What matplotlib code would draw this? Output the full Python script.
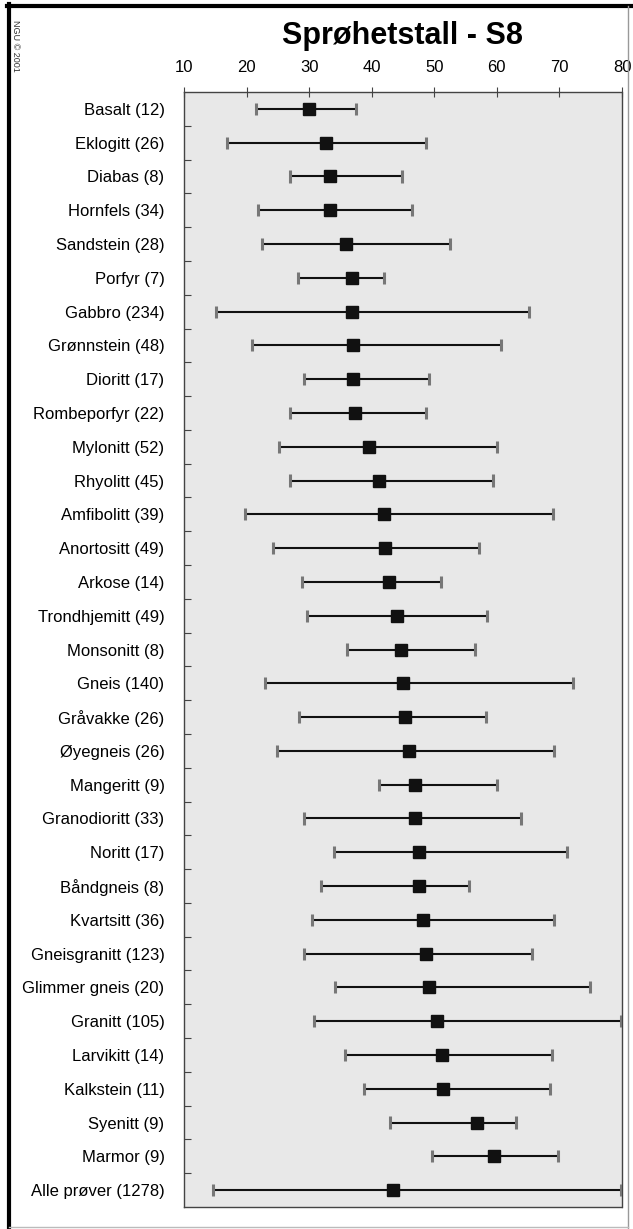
import matplotlib
matplotlib.use('Agg')
import matplotlib.pyplot as plt
from matplotlib.lines import Line2D
import numpy as np

plt.rcParams['font.family'] = ['Liberation Sans', 'DejaVu Sans']

# rock types with sample counts, top to bottom
rocks = ['Basalt (12)', 'Eklogitt (26)', 'Diabas (8)', 'Hornfels (34)', 'Sandstein (28)',
         'Porfyr (7)', 'Gabbro (234)', 'Grønnstein (48)', 'Dioritt (17)', 'Rombeporfyr (22)',
         'Mylonitt (52)', 'Rhyolitt (45)', 'Amfibolitt (39)', 'Anortositt (49)', 'Arkose (14)',
         'Trondhjemitt (49)', 'Monsonitt (8)', 'Gneis (140)', 'Gråvakke (26)', 'Øyegneis (26)',
         'Mangeritt (9)', 'Granodioritt (33)', 'Noritt (17)', 'Båndgneis (8)', 'Kvartsitt (36)',
         'Gneisgranitt (123)', 'Glimmer gneis (20)', 'Granitt (105)', 'Larvikitt (14)',
         'Kalkstein (11)', 'Syenitt (9)', 'Marmor (9)', 'Alle prøver (1278)']

s8_min = [21.5, 16.8, 27.0, 21.8, 22.5, 28.2, 15.1, 20.8, 29.1, 27.0,
          25.2, 27.0, 19.8, 24.3, 28.9, 29.7, 36.0, 22.9, 28.3, 24.8,
          41.1, 29.2, 34.0, 31.9, 30.5, 29.2, 34.1, 30.7, 35.7, 38.8,
          43.0, 49.6, 14.7]
s8_mean = [29.9, 32.7, 33.3, 33.3, 35.9, 36.8, 36.8, 37.0, 37.0, 37.3,
           39.6, 41.1, 41.9, 42.2, 42.7, 44.0, 44.7, 45.0, 45.3, 46.0,
           46.9, 46.9, 47.6, 47.6, 48.2, 48.6, 49.2, 50.5, 51.2, 51.4,
           56.8, 59.6, 43.4]
s8_max = [37.5, 48.7, 44.9, 46.5, 52.5, 41.9, 65.1, 60.7, 49.1, 48.6,
          60.0, 59.4, 68.9, 57.1, 51.1, 58.5, 56.5, 72.1, 58.2, 69.2,
          60.0, 63.8, 71.2, 55.6, 69.2, 65.6, 74.9, 79.8, 68.8, 68.5,
          63.1, 69.8, 79.8]
xticks = [10, 20, 30, 40, 50, 60, 70, 80]

fig = plt.figure(figsize=(6.33, 12.29), dpi=100)
ax = fig.add_axes([184 / 633, 1 - 1207 / 1229, 438 / 633, 1115 / 1229])
ax.set_facecolor('#e8e8e8')

ypos = np.arange(len(rocks))

# whiskers, end caps and mean markers
ax.hlines(ypos, s8_min, s8_max, color='#111111', lw=1.5, zorder=2)
ax.vlines(s8_min, ypos - 0.18, ypos + 0.18, color='#777777', lw=2.2, zorder=3)
ax.vlines(s8_max, ypos - 0.18, ypos + 0.18, color='#777777', lw=2.2, zorder=3)
ax.plot(s8_mean, ypos, 's', color='#111111', ms=8, zorder=4)

ax.set_xlim(10, 80)
ax.set_ylim(len(rocks) - 0.5, -0.5)

ax.xaxis.set_ticks_position('top')
ax.set_xticks(xticks)
ax.tick_params(axis='x', direction='inout', length=7, width=0.8, color='#444444',
               labelsize=12, pad=9)
ax.set_yticks(ypos)
ax.set_yticklabels(rocks)
ax.tick_params(axis='y', length=0, labelsize=12, pad=14)
ax.set_yticks(ypos[:-1] + 0.5, minor=True)
ax.tick_params(axis='y', which='minor', direction='in', length=5, width=0.8, color='#444444')

for sp in ax.spines.values():
    sp.set_color('#444444')
    sp.set_linewidth(1.0)
    sp.set_linestyle((0, (1, 1)))

fig.text(403 / 633, 1 - 36 / 1229, 'Sprøhetstall - S8', ha='center', va='center',
         fontsize=22, fontweight='bold')
fig.text(15 / 633, 1 - 20 / 1229, 'NGU © 2001', rotation=270, ha='center', va='top',
         fontsize=6.5, color='#333333')

# outer frame
fig.add_artist(Line2D([9 / 633, 9 / 633], [0, 1 - 4 / 1229], color='black', lw=3,
                      transform=fig.transFigure))
fig.add_artist(Line2D([7 / 633, 1], [1 - 6 / 1229, 1 - 6 / 1229], color='black', lw=3,
                      transform=fig.transFigure))
fig.add_artist(Line2D([628 / 633, 628 / 633], [1 - 1228 / 1229, 1 - 6 / 1229],
                      color='#999999', lw=1, transform=fig.transFigure))
fig.add_artist(Line2D([9 / 633, 628 / 633], [1 - 1227 / 1229, 1 - 1227 / 1229],
                      color='#bbbbbb', lw=1, transform=fig.transFigure))

fig.savefig('out.png', dpi=100)
